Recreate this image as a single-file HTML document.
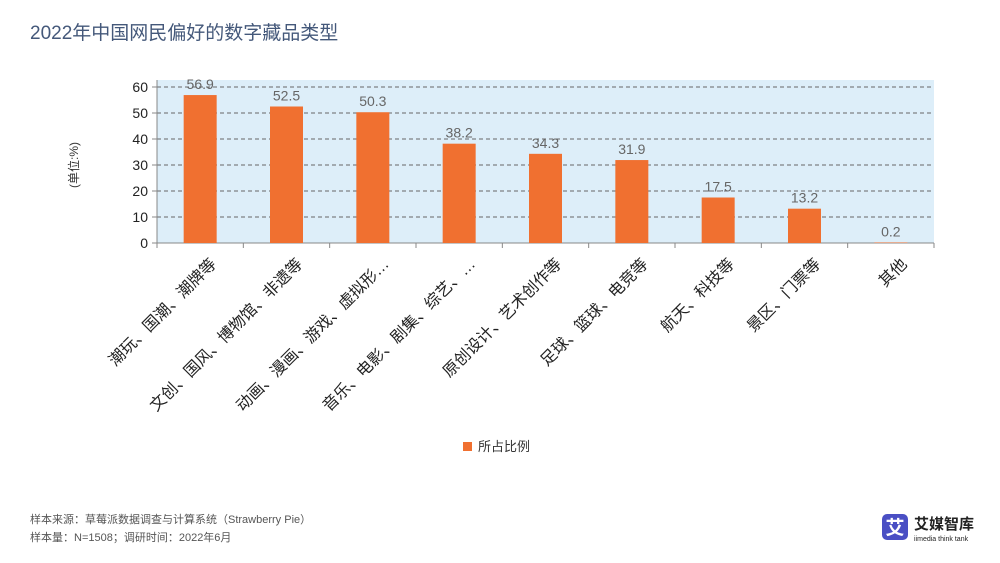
<!DOCTYPE html>
<html><head><meta charset="utf-8"><style>
body{margin:0;width:1000px;height:563px;background:#fff;overflow:hidden;font-family:"Liberation Sans","Noto Sans CJK SC",sans-serif}
svg{position:absolute;left:0;top:0}
</style></head><body>
<svg width="1000" height="563">
<text x="30" y="39" font-size="19" fill="#44587a">2022年中国网民偏好的数字藏品类型</text>
<rect x="157" y="80" width="777" height="163" fill="#ddeef9"/>
<g id="grid"></g><g id="bars"></g><g id="yt"></g><g id="xl"></g>
<text transform="translate(78,165) rotate(-90)" font-size="12" fill="#333" text-anchor="middle">(单位:%)</text>
<rect x="463" y="442" width="9" height="9" fill="#f07030"/>
<text x="478" y="451" font-size="13" fill="#333">所占比例</text>
<text x="30" y="523" font-size="11" fill="#555">样本来源：草莓派数据调查与计算系统（Strawberry Pie）</text>
<text x="30" y="541" font-size="11" fill="#555">样本量：N=1508；调研时间：2022年6月</text>
<g>
<rect x="882" y="514" width="26" height="26" rx="5" fill="#4a4fc4"/>
<text x="895" y="534" font-size="19" font-weight="bold" fill="#fff" text-anchor="middle">艾</text>
<text x="914" y="529" font-size="15" font-weight="bold" fill="#222">艾媒智库</text>
<text x="914" y="541" font-size="7" fill="#222">iimedia think tank</text>
</g>
</svg>
<script>
const categories=["潮玩、国潮、潮牌等","文创、国风、博物馆、非遗等","动画、漫画、游戏、虚拟形…","音乐、电影、剧集、综艺、…","原创设计、艺术创作等","足球、篮球、电竞等","航天、科技等","景区、门票等","其他"];
const values=[56.9,52.5,50.3,38.2,34.3,31.9,17.5,13.2,0.2];
const ticks=[0,10,20,30,40,50,60];
const NS="http://www.w3.org/2000/svg";
const x0=157,x1=934,y0=243,ppu=2.6;
const bw=(x1-x0)/categories.length;
const yS=v=>y0-v*ppu;
function mk(t,a,p){const e=document.createElementNS(NS,t);for(const k in a)e.setAttribute(k,a[k]);document.getElementById(p).appendChild(e);return e;}
ticks.forEach(t=>{
 const l=mk("line",{x1:x0,x2:x1,y1:yS(t),y2:yS(t),stroke:t?"#666":"#888","stroke-dasharray":t?"4,3":"none","stroke-width":1},"grid");
 
 
 const tk=mk("line",{x1:x0-5,x2:x0,y1:yS(t),y2:yS(t),stroke:"#888"},"grid");
 
 
 const tx=mk("text",{x:x0-9,y:yS(t)+5,"font-size":14,fill:"#222","text-anchor":"end"},"yt");
 tx.textContent=t;
 
 
});
mk("line",{x1:x0,x2:x0,y1:yS(60)-7,y2:y0,stroke:"#888"},"grid");
categories.forEach((c,i)=>{
 const cx=x0+bw*(i+0.5);
 const r=mk("rect",{x:cx-16.5,y:yS(values[i]),width:33,height:values[i]*ppu,fill:"#f07030"},"bars");
 
 
 const v=mk("text",{x:cx,y:yS(values[i])-6,"font-size":14,fill:"#666","text-anchor":"middle"},"bars");
 v.textContent=values[i];
 
 
 const tk=mk("line",{x1:x0+bw*i,x2:x0+bw*i,y1:y0,y2:y0+5,stroke:"#888"},"grid");
 
 
 const t=mk("text",{transform:`translate(${cx+17},${y0+22}) rotate(-45)`,"font-size":16,fill:"#222","text-anchor":"end"},"xl");
 t.textContent=c;
 
 
});
mk("line",{x1:x1,x2:x1,y1:y0,y2:y0+5,stroke:"#888"},"grid");
</script>
</body></html>
